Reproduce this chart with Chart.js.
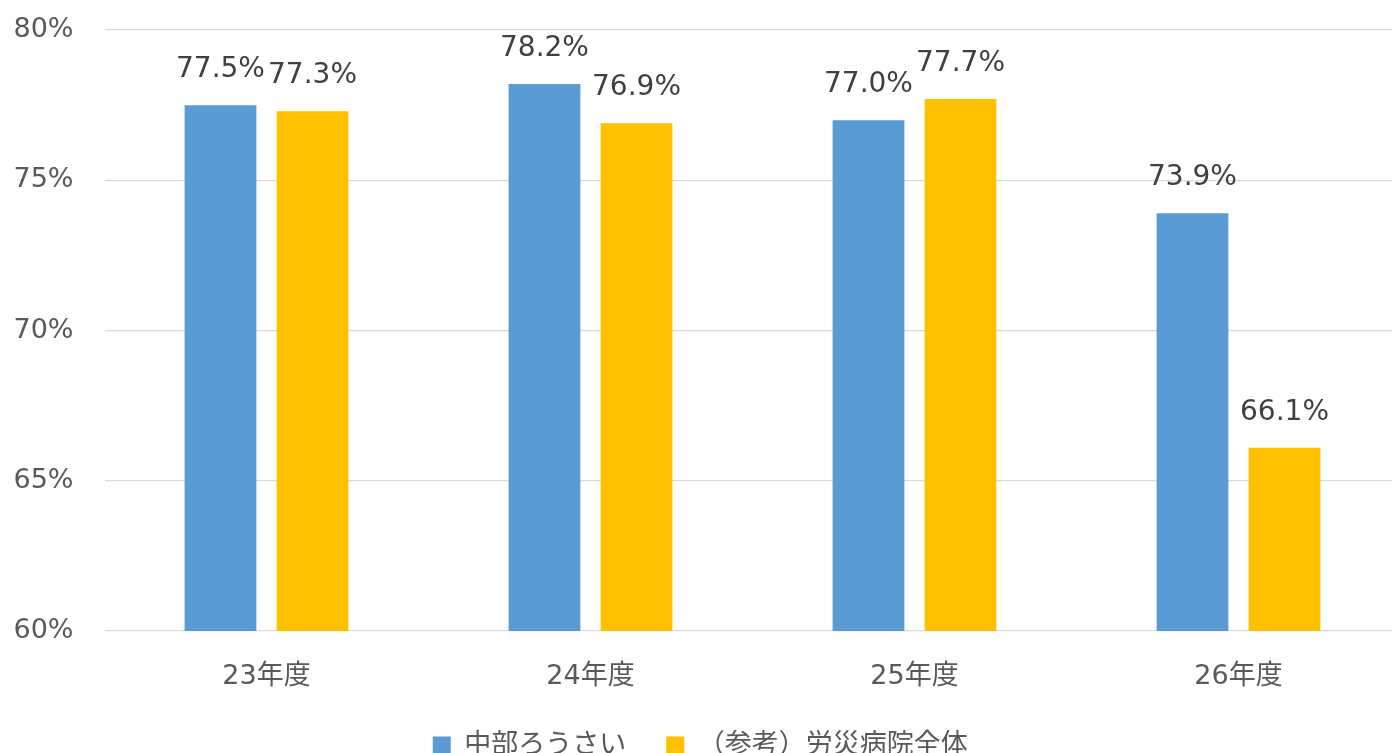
<!DOCTYPE html>
<html>
<head>
<meta charset="utf-8">
<script src="https://cdn.jsdelivr.net/npm/chart.js@4.4.0/dist/chart.umd.min.js"></script>
<style>
  html, body { margin: 0; padding: 0; background: #fff; overflow: hidden; }
  #wrap { position: absolute; left: 0; top: 0; width: 1392px; height: 753px; overflow: hidden; }
  canvas { display: block; }
</style>
</head>
<body>
<div id="wrap"><canvas id="chart" width="1434" height="769"></canvas></div>
<script>
const categories = ['23年度', '24年度', '25年度', '26年度'];
const seriesNames = ['中部ろうさい', '（参考）労災病院全体'];
const chubuRosai = [77.5, 78.2, 77.0, 73.9];
const rosaiAll = [77.3, 76.9, 77.7, 66.1];
const yTicks = [60, 65, 70, 75, 80];

const FONT = "'DejaVu Sans', 'Noto Sans CJK JP', sans-serif";

// value labels above each bar
const barLabels = {
  id: 'barLabels',
  afterDatasetsDraw(chart) {
    const ctx = chart.ctx;
    ctx.save();
    ctx.font = '28px ' + FONT;
    ctx.fillStyle = '#404040';
    ctx.textAlign = 'center';
    ctx.textBaseline = 'alphabetic';
    chart.data.datasets.forEach((ds, i) => {
      chart.getDatasetMeta(i).data.forEach((bar, j) => {
        ctx.fillText(ds.data[j].toFixed(1) + '%', bar.x, bar.y - 28);
      });
    });
    ctx.restore();
  }
};

const ctx = document.getElementById('chart').getContext('2d');
new Chart(ctx, {
  type: 'bar',
  data: {
    labels: categories,
    datasets: [
      { label: seriesNames[0], data: chubuRosai, backgroundColor: '#5B9BD5' },
      { label: seriesNames[1], data: rosaiAll, backgroundColor: '#FFC000' }
    ]
  },
  options: {
    responsive: false,
    animation: false,
    devicePixelRatio: 1,
    categoryPercentage: 0.568,
    barPercentage: 0.78,
    layout: { padding: { top: 30, right: 33.5, left: 0, bottom: 0 } },
    plugins: {
      tooltip: { enabled: false },
      legend: {
        position: 'bottom',
        labels: {
          boxWidth: 18,
          boxHeight: 18,
          padding: 40,
          color: '#595959',
          font: { family: FONT, size: 27 }
        }
      }
    },
    scales: {
      x: {
        afterFit(scale) { scale.height = 61; },
        grid: { display: false, drawTicks: false },
        border: { display: false },
        ticks: { color: '#595959', padding: 30, font: { family: FONT, size: 27 } }
      },
      y: {
        min: 60,
        max: 80,
        afterFit(scale) {
          scale.width = 104.5;
          scale.paddingTop = 0;
          scale.paddingBottom = 0;
        },
        afterBuildTicks(scale) { scale.ticks = yTicks.map(v => ({ value: v })); },
        grid: { color: '#d9d9d9', lineWidth: 1.3, drawTicks: false },
        border: { display: false },
        ticks: {
          color: '#595959',
          padding: 31,
          font: { family: FONT, size: 27 },
          callback: v => v + '%'
        }
      }
    }
  },
  plugins: [barLabels]
});
</script>
</body>
</html>
